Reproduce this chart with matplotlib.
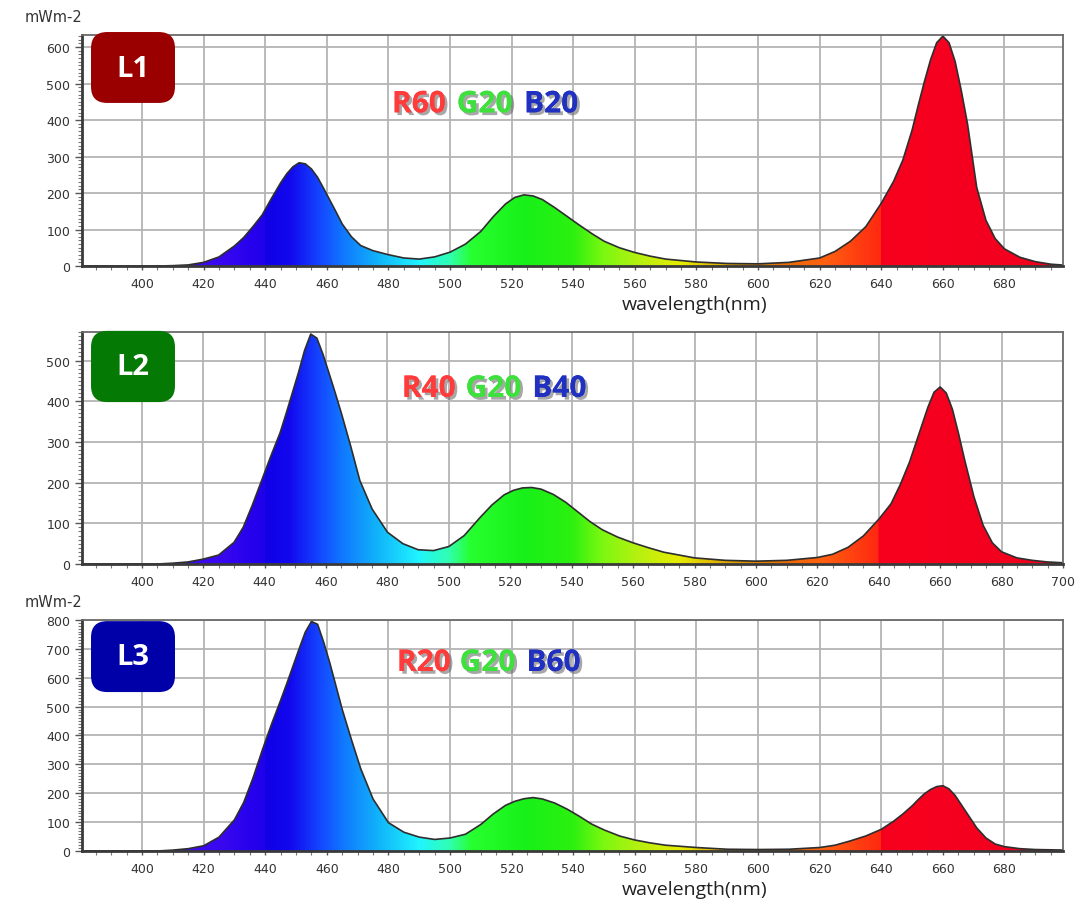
import matplotlib
matplotlib.use("Agg")
import matplotlib.pyplot as plt
import matplotlib.patheffects as pe
from matplotlib.patches import Polygon, FancyBboxPatch
from matplotlib.ticker import MultipleLocator
import numpy as np

# wavelength grid (nm), shared by the three spectra
wavelength = [380, 390, 400, 405, 410, 415, 420, 425, 430,
              433, 436, 439, 442, 445, 447, 449, 451, 453, 455,
              457, 459, 461, 463, 465, 468, 471, 475, 480, 485,
              490, 495, 500, 505, 510, 514, 518, 521, 524, 527,
              530, 534, 538, 542, 546, 550, 555, 560, 565, 570,
              580, 590, 600, 610, 620, 625, 630, 635, 640, 644,
              647, 650, 652, 654, 656, 658, 660, 662, 664, 666,
              668, 671, 674, 677, 680, 685, 690, 695, 700]

# irradiance (mW m-2)
l1_values = [0, 0, 0, 0, 1, 3, 10, 25, 55,
             78, 108, 140, 185, 228, 253, 272, 283, 280, 266,
             243, 212, 180, 148, 115, 80, 56, 42, 31, 22,
             19, 25, 38, 60, 95, 135, 170, 188, 195, 192,
             182, 160, 136, 112, 89, 68, 50, 37, 27, 19,
             11, 7, 6, 10, 22, 40, 68, 108, 172, 232,
             290, 372, 440, 505, 565, 612, 630, 612, 560, 480,
             390, 215, 125, 75, 47, 24, 12, 5, 2]
l2_values = [0, 0, 0, 0, 2, 5, 12, 22, 53,
             90, 145, 205, 265, 322, 370, 420, 470, 525, 565,
             555, 515, 468, 420, 370, 290, 205, 135, 78, 50,
             35, 33, 43, 70, 113, 145, 170, 181, 187, 188,
             184, 171, 152, 128, 104, 84, 66, 52, 40, 29,
             15, 9, 7, 9, 16, 24, 41, 69, 110, 148,
             195, 250, 295, 340, 385, 422, 435, 420, 380, 320,
             255, 165, 95, 52, 30, 15, 9, 5, 3]
l3_values = [0, 0, 0, 0, 3, 8, 18, 48, 108,
             168, 252, 348, 438, 522, 580, 640, 700, 758, 795,
             785, 722, 650, 570, 490, 385, 285, 180, 98, 65,
             48, 40, 45, 58, 92, 128, 158, 172, 181, 185,
             180, 166, 145, 120, 93, 73, 52, 38, 28, 20,
             12, 6, 5, 6, 12, 20, 35, 52, 75, 103,
             128, 156, 178, 198, 213, 223, 226, 215, 192, 160,
             128, 80, 45, 24, 15, 8, 5, 4, 3]

panel_names = ["L1", "L2", "L3"]
panel_values = [l1_values, l2_values, l3_values]
mix_labels = [("R60", "G20", "B20"), ("R40", "G20", "B40"), ("R20", "G20", "B60")]
y_max = [633, 570, 800]
x_max = [699, 700, 699]

badge_colors = ["#9a0000", "#047a04", "#0000a8"]
mix_colors = ["#ff3b3b", "#3ee03e", "#2030c0"]

# spectral colour stops for the fill
stops = [(380, "#4a10f0"), (425, "#3a08f0"), (437, "#2400ec"), (439.9, "#2000ea"),
         (440, "#1000e6"), (448, "#1208ee"), (458, "#1448ff"), (466, "#107cff"),
         (476, "#10b0fa"), (490, "#20f4ff"), (500, "#30ffb0"), (507, "#28ff30"),
         (525, "#18f018"), (540, "#2cf010"), (550, "#7cf810"), (562, "#b8f010"),
         (575, "#e6ec00"), (588, "#e0b000"), (600, "#d88400"), (612, "#f06808"),
         (622, "#ff6010"), (632, "#ff4010"), (639.9, "#ff2810"), (640, "#f8001e"),
         (700, "#f0001e")]


def spectrum_image():
    xs = np.linspace(380, 700, 1280)
    sw = [s[0] for s in stops]
    rgb = np.array([matplotlib.colors.to_rgb(s[1]) for s in stops])
    img = np.stack([np.interp(xs, sw, rgb[:, k]) for k in range(3)], axis=-1)
    return img[np.newaxis, :, :]


fig = plt.figure(figsize=(10.76, 9.03), dpi=100)
fig.patch.set_facecolor("white")

axes_boxes = [[0.0762, 0.7043, 0.9117, 0.2558],
              [0.0762, 0.3743, 0.9117, 0.2569],
              [0.0762, 0.0565, 0.9117, 0.2558]]
mix_pos = [(0.316, 0.382, 0.4506, 0.70),
           (0.326, 0.391, 0.459, 0.755),
           (0.321, 0.385, 0.453, 0.814)]
badge_y = [(0.706, 0.857), (0.698, 0.851), (0.688, 0.840)]

img = spectrum_image()
shadow = [pe.withSimplePatchShadow(offset=(2, -2), shadow_rgbFace="#606060", alpha=0.55), pe.Normal()]

for i in range(3):
    ax = fig.add_axes(axes_boxes[i])
    vals = np.array(panel_values[i], dtype=float)
    wl = np.array(wavelength, dtype=float)
    assert len(vals) == len(wl)

    ax.set_xlim(380.5, x_max[i])
    ax.set_ylim(0, y_max[i])

    im = ax.imshow(img, extent=[380, 700, 0, y_max[i]], aspect="auto", zorder=2,
                   interpolation="nearest")
    verts = np.column_stack([np.r_[wl, wl[-1], wl[0]], np.r_[vals, 0, 0]])
    poly = Polygon(verts, closed=True, facecolor="none", edgecolor="none",
                   transform=ax.transData)
    ax.add_patch(poly)
    im.set_clip_path(poly)
    ax.plot(wl, vals, color="#2e2e2e", lw=1.2, zorder=3)

    ax.xaxis.set_major_locator(MultipleLocator(20))
    ax.xaxis.set_minor_locator(MultipleLocator(5))
    ax.yaxis.set_major_locator(MultipleLocator(100))
    ax.yaxis.set_minor_locator(MultipleLocator(10))
    ax.grid(True, which="major", color="#b4b4b4", lw=1.3, zorder=1)
    ax.set_axisbelow(True)
    ax.tick_params(axis="both", which="major", labelsize=9, labelcolor="#333333",
                   color="#555555", length=5, width=1)
    ax.tick_params(axis="both", which="minor", color="#777777", length=3, width=0.8)
    ax.tick_params(axis="x", which="major", length=3, pad=5)

    for side in ["left", "bottom"]:
        ax.spines[side].set_color("#3a3a3a")
        ax.spines[side].set_linewidth(2)
    for side in ["top", "right"]:
        ax.spines[side].set_color("#6a6a6a")
        ax.spines[side].set_linewidth(1.3)
    for sp in ax.spines.values():
        sp.set_zorder(4)

    # panel badge
    y0, yc = badge_y[i]
    badge = FancyBboxPatch((0.0092, y0), 0.0856, 0.307,
                           boxstyle="round,pad=0,rounding_size=0.0165",
                           transform=ax.transAxes, facecolor=badge_colors[i],
                           edgecolor="none", zorder=5, mutation_aspect=4.25,
                           clip_on=False)
    ax.add_patch(badge)
    ax.text(0.052, yc, panel_names[i], transform=ax.transAxes, ha="center",
            va="center", color="white", fontsize=21, fontweight="bold",
            family="Open Sans", zorder=6)

    # mix label
    xr, xg, xb, yy = mix_pos[i]
    for txt, xx, col in zip(mix_labels[i], (xr, xg, xb), mix_colors):
        ax.text(xx, yy, txt, transform=ax.transAxes, ha="left", va="center",
                color=col, fontsize=21.5, fontweight="bold", family="Open Sans",
                zorder=6, path_effects=shadow)

    if i != 1:
        ax.set_xlabel("wavelength(nm)", fontsize=14, color="#222222",
                      family="Open Sans")
        ax.xaxis.set_label_coords(0.624, -0.125)
        ax.text(-0.058, 1.08, "mWm-2", transform=ax.transAxes, fontsize=10.5,
                color="#333333", ha="left", va="center")

fig.savefig("out.png", dpi=100, facecolor="white")
